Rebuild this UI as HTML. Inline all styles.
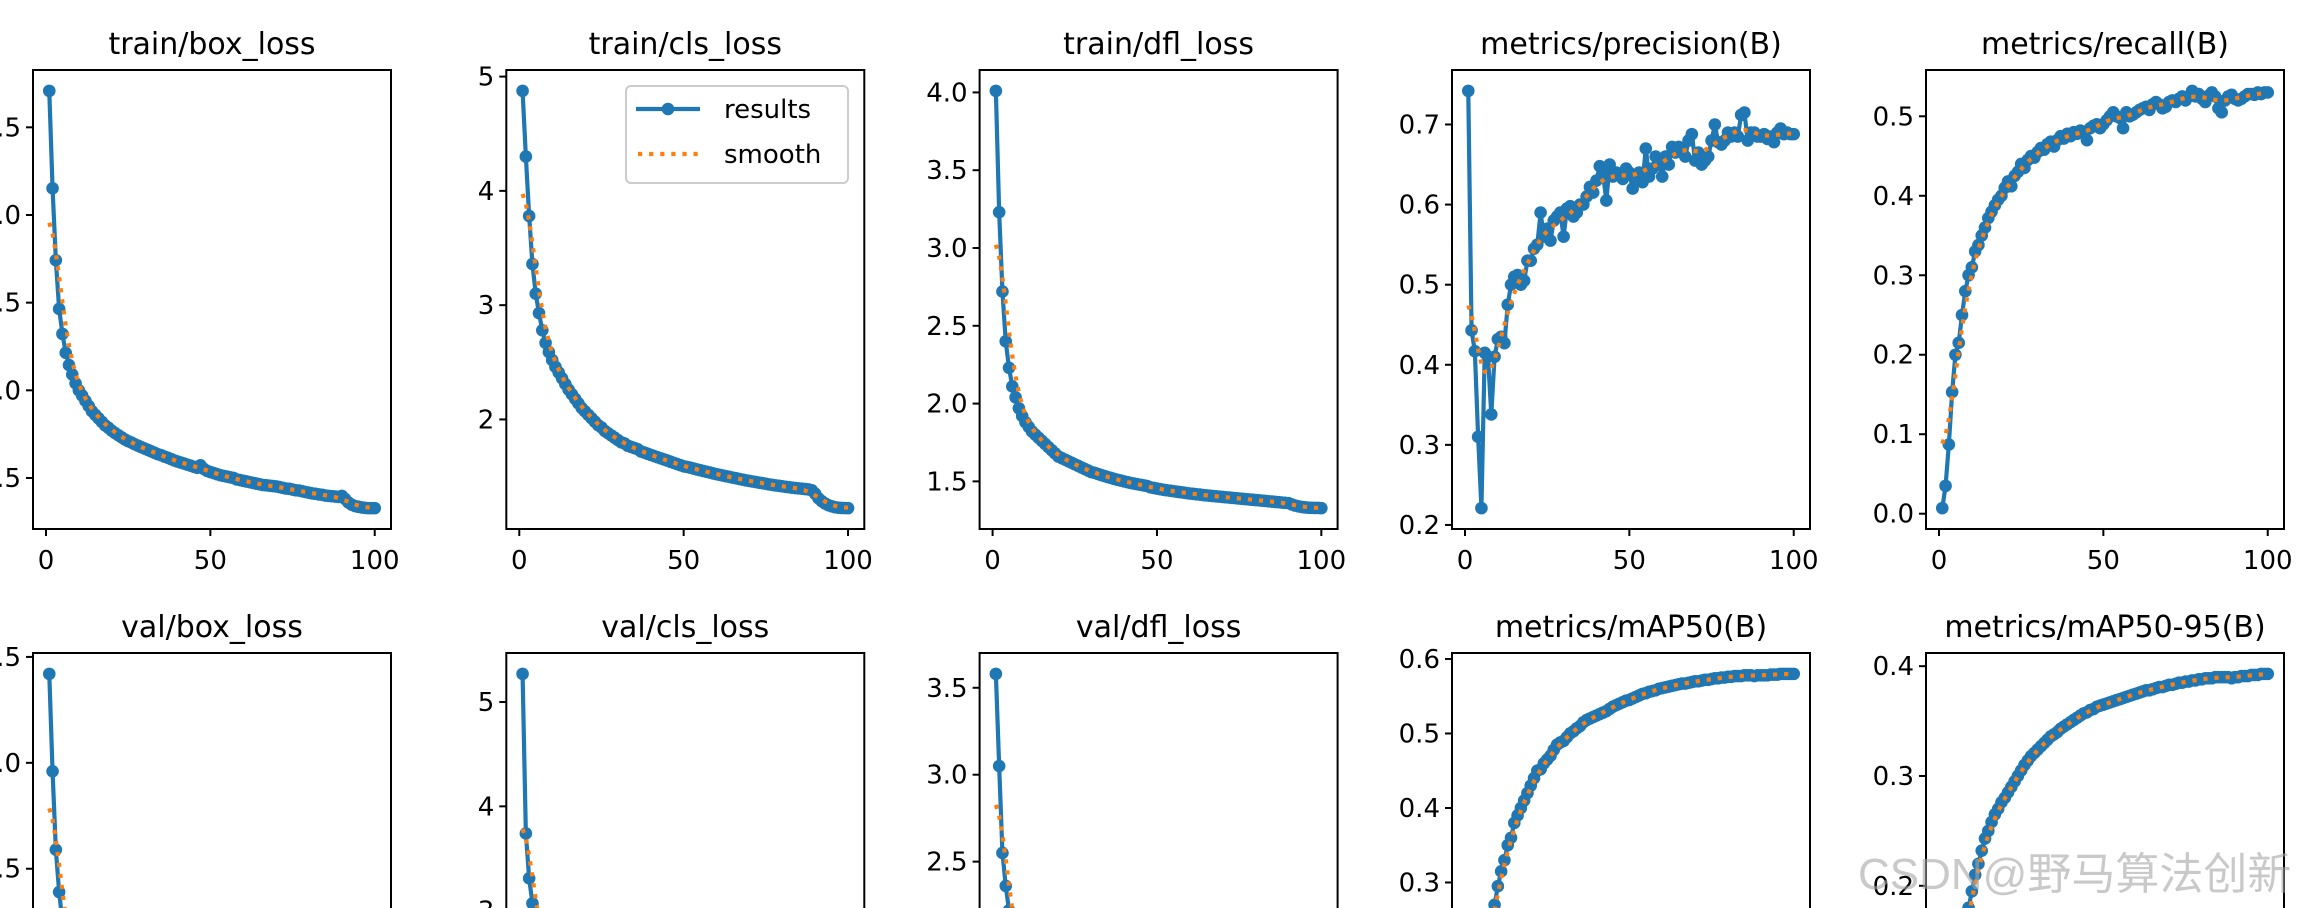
<!DOCTYPE html>
<html><head><meta charset="utf-8">
<style>
html,body{margin:0;padding:0;background:#fff;}
body{width:2307px;height:908px;overflow:hidden;position:relative;}
svg{position:absolute;left:0;top:0;overflow:hidden;}
text{font-family:"DejaVu Sans","Liberation Sans",sans-serif;}
#wm{position:absolute;left:1858px;top:838px;font-family:"Liberation Sans","Noto Sans CJK SC",sans-serif;font-size:44px;color:rgba(165,165,165,0.6);white-space:nowrap;}
</style></head>
<body>
<svg id="chart" width="2307" height="908" viewBox="0 0 2307 908"></svg>
<div id="wm">CSDN@野马算法创新</div>
<script>
const titles = ["train/box_loss","train/cls_loss","train/dfl_loss","metrics/precision(B)","metrics/recall(B)","val/box_loss","val/cls_loss","val/dfl_loss","metrics/mAP50(B)","metrics/mAP50-95(B)"];
const trainBox = [3.708,3.152,2.742,2.464,2.322,2.214,2.144,2.09,2.04,2.0,1.97,1.94,1.91,1.88,1.86,1.84,1.82,1.80,1.786,1.77,1.756,1.744,1.732,1.72,1.71,1.702,1.692,1.684,1.676,1.668,1.66,1.652,1.644,1.636,1.63,1.622,1.616,1.608,1.60,1.594,1.588,1.582,1.576,1.57,1.564,1.558,1.572,1.552,1.54,1.534,1.528,1.522,1.516,1.512,1.508,1.504,1.50,1.492,1.488,1.484,1.48,1.476,1.472,1.468,1.464,1.46,1.458,1.456,1.454,1.452,1.448,1.444,1.44,1.438,1.434,1.43,1.428,1.424,1.42,1.416,1.412,1.41,1.406,1.404,1.40,1.398,1.396,1.394,1.392,1.398,1.38,1.36,1.348,1.34,1.336,1.332,1.33,1.328,1.328,1.328];
const trainCls = [4.875,4.30,3.78,3.36,3.10,2.93,2.78,2.67,2.59,2.52,2.46,2.41,2.36,2.31,2.26,2.22,2.18,2.14,2.10,2.07,2.04,2.01,1.98,1.95,1.93,1.90,1.88,1.86,1.84,1.82,1.80,1.79,1.77,1.76,1.75,1.74,1.72,1.71,1.70,1.69,1.68,1.67,1.66,1.65,1.64,1.63,1.62,1.61,1.60,1.59,1.585,1.578,1.570,1.563,1.556,1.549,1.542,1.535,1.528,1.521,1.515,1.509,1.503,1.497,1.491,1.485,1.479,1.473,1.467,1.462,1.457,1.452,1.447,1.442,1.437,1.432,1.427,1.423,1.419,1.415,1.411,1.407,1.403,1.400,1.397,1.394,1.391,1.388,1.380,1.350,1.310,1.285,1.265,1.250,1.240,1.232,1.228,1.226,1.225,1.224];
const trainDfl = [4.01,3.23,2.72,2.40,2.23,2.11,2.04,1.97,1.92,1.88,1.85,1.82,1.80,1.78,1.76,1.74,1.72,1.70,1.68,1.66,1.65,1.64,1.63,1.62,1.61,1.60,1.59,1.58,1.57,1.56,1.555,1.548,1.541,1.534,1.528,1.522,1.516,1.510,1.505,1.500,1.495,1.490,1.486,1.482,1.478,1.474,1.470,1.462,1.458,1.454,1.450,1.446,1.443,1.440,1.437,1.434,1.431,1.428,1.425,1.422,1.420,1.417,1.415,1.412,1.410,1.408,1.406,1.404,1.402,1.400,1.398,1.396,1.394,1.392,1.390,1.388,1.386,1.384,1.382,1.380,1.378,1.376,1.374,1.372,1.370,1.368,1.366,1.364,1.362,1.360,1.352,1.345,1.340,1.336,1.333,1.331,1.330,1.329,1.329,1.328];
const precision = [0.742,0.443,0.417,0.31,0.221,0.415,0.41,0.338,0.41,0.432,0.435,0.427,0.475,0.50,0.51,0.512,0.50,0.505,0.53,0.53,0.545,0.55,0.59,0.56,0.57,0.555,0.58,0.585,0.59,0.56,0.595,0.598,0.585,0.59,0.60,0.60,0.61,0.622,0.615,0.63,0.648,0.638,0.605,0.65,0.635,0.64,0.638,0.632,0.645,0.64,0.62,0.635,0.64,0.628,0.67,0.635,0.645,0.66,0.65,0.635,0.66,0.65,0.672,0.665,0.672,0.668,0.66,0.68,0.688,0.655,0.665,0.65,0.655,0.66,0.68,0.70,0.678,0.675,0.68,0.69,0.685,0.69,0.685,0.712,0.715,0.68,0.69,0.69,0.685,0.685,0.688,0.682,0.685,0.678,0.69,0.695,0.688,0.69,0.688,0.688];
const recall = [0.007,0.035,0.087,0.153,0.20,0.215,0.25,0.28,0.30,0.31,0.33,0.338,0.35,0.36,0.372,0.38,0.388,0.395,0.40,0.41,0.418,0.412,0.425,0.43,0.44,0.435,0.445,0.45,0.448,0.455,0.46,0.458,0.465,0.468,0.462,0.47,0.475,0.472,0.478,0.475,0.48,0.478,0.482,0.48,0.47,0.485,0.488,0.49,0.485,0.49,0.495,0.50,0.505,0.50,0.498,0.485,0.505,0.50,0.502,0.505,0.508,0.51,0.512,0.508,0.515,0.518,0.515,0.51,0.512,0.518,0.52,0.518,0.522,0.525,0.52,0.525,0.532,0.525,0.528,0.522,0.518,0.526,0.53,0.525,0.51,0.505,0.52,0.525,0.527,0.522,0.52,0.522,0.525,0.528,0.528,0.527,0.53,0.528,0.53,0.53];
const valBox = [2.42,1.96,1.59,1.39,1.25,1.15,1.08,1.02,0.97,0.93,0.90,0.87,0.84,0.82,0.80,0.78,0.76,0.74,0.73,0.72,0.70,0.69,0.68,0.67,0.66,0.65,0.64,0.63,0.62,0.61,0.605,0.60,0.59,0.585,0.58,0.575,0.57,0.565,0.56,0.555,0.55,0.545,0.54,0.535,0.53,0.527,0.524,0.521,0.518,0.515,0.512,0.509,0.506,0.503,0.50,0.498,0.496,0.494,0.492,0.49,0.488,0.486,0.484,0.482,0.48,0.478,0.476,0.474,0.472,0.47,0.469,0.468,0.467,0.466,0.465,0.464,0.463,0.462,0.461,0.46,0.459,0.458,0.457,0.456,0.455,0.455,0.454,0.454,0.453,0.453,0.452,0.452,0.452,0.451,0.451,0.451,0.45,0.45,0.45,0.45];
const valCls = [5.27,3.74,3.31,3.07,2.90,2.75,2.62,2.50,2.40,2.31,2.23,2.16,2.10,2.04,1.99,1.94,1.90,1.86,1.82,1.79,1.76,1.73,1.70,1.68,1.66,1.64,1.62,1.60,1.58,1.57,1.55,1.54,1.52,1.51,1.50,1.49,1.48,1.47,1.46,1.45,1.44,1.43,1.42,1.415,1.41,1.40,1.395,1.39,1.385,1.38,1.375,1.37,1.365,1.36,1.355,1.35,1.345,1.34,1.336,1.332,1.328,1.324,1.32,1.317,1.314,1.311,1.308,1.305,1.302,1.30,1.298,1.296,1.294,1.292,1.29,1.288,1.286,1.285,1.284,1.283,1.282,1.281,1.28,1.279,1.278,1.277,1.276,1.275,1.274,1.273,1.272,1.272,1.271,1.271,1.271,1.27,1.27,1.27,1.27,1.27];
const valDfl = [3.58,3.05,2.55,2.36,2.22,2.10,2.00,1.92,1.85,1.79,1.74,1.70,1.66,1.62,1.59,1.56,1.53,1.51,1.49,1.47,1.45,1.43,1.42,1.40,1.39,1.38,1.37,1.36,1.35,1.34,1.33,1.32,1.315,1.31,1.30,1.295,1.29,1.285,1.28,1.275,1.27,1.266,1.262,1.258,1.254,1.25,1.247,1.244,1.241,1.238,1.235,1.232,1.23,1.228,1.226,1.224,1.222,1.22,1.218,1.216,1.214,1.212,1.21,1.208,1.206,1.205,1.204,1.203,1.202,1.201,1.20,1.199,1.198,1.197,1.196,1.195,1.194,1.193,1.192,1.191,1.19,1.189,1.188,1.187,1.186,1.186,1.185,1.185,1.184,1.184,1.183,1.183,1.182,1.182,1.182,1.181,1.181,1.18,1.18,1.18];
const map50 = [0.02,0.05,0.09,0.13,0.17,0.20,0.22,0.24,0.27,0.295,0.315,0.33,0.35,0.36,0.38,0.39,0.40,0.41,0.42,0.43,0.44,0.45,0.452,0.46,0.465,0.47,0.478,0.485,0.488,0.49,0.495,0.50,0.503,0.507,0.51,0.515,0.518,0.52,0.522,0.524,0.526,0.528,0.53,0.533,0.536,0.538,0.54,0.542,0.544,0.545,0.547,0.549,0.551,0.553,0.554,0.556,0.557,0.558,0.56,0.561,0.562,0.563,0.564,0.565,0.566,0.567,0.567,0.568,0.569,0.57,0.57,0.571,0.572,0.572,0.573,0.574,0.574,0.575,0.575,0.576,0.576,0.577,0.577,0.577,0.578,0.578,0.578,0.577,0.578,0.578,0.578,0.578,0.579,0.579,0.579,0.58,0.58,0.58,0.58,0.58];
const map5095 = [0.013,0.03,0.055,0.08,0.10,0.12,0.14,0.16,0.18,0.195,0.21,0.22,0.232,0.243,0.25,0.258,0.265,0.27,0.276,0.28,0.285,0.29,0.295,0.30,0.305,0.31,0.314,0.318,0.321,0.324,0.327,0.33,0.333,0.336,0.338,0.34,0.343,0.345,0.347,0.349,0.351,0.353,0.355,0.357,0.358,0.36,0.361,0.363,0.364,0.365,0.366,0.367,0.368,0.369,0.37,0.371,0.372,0.373,0.374,0.375,0.376,0.377,0.378,0.378,0.379,0.38,0.381,0.381,0.382,0.383,0.383,0.384,0.385,0.385,0.386,0.386,0.387,0.387,0.388,0.388,0.389,0.389,0.389,0.39,0.39,0.39,0.39,0.39,0.389,0.39,0.39,0.391,0.391,0.391,0.392,0.392,0.392,0.393,0.393,0.393];
const xTicks = [0,50,100];
const xTickLabels = ["0","50","100"];
const yTicks = [[1.5,2.0,2.5,3.0,3.5],[2,3,4,5],[1.5,2.0,2.5,3.0,3.5,4.0],[0.2,0.3,0.4,0.5,0.6,0.7],[0.0,0.1,0.2,0.3,0.4,0.5],[0.5,1.0,1.5,2.0,2.5],[2,3,4,5],[1.5,2.0,2.5,3.0,3.5],[0.1,0.2,0.3,0.4,0.5,0.6],[0.1,0.2,0.3,0.4]];
const yTickLabels = [["1.5","2.0","2.5","3.0","3.5"],["2","3","4","5"],["1.5","2.0","2.5","3.0","3.5","4.0"],["0.2","0.3","0.4","0.5","0.6","0.7"],["0.0","0.1","0.2","0.3","0.4","0.5"],["0.5","1.0","1.5","2.0","2.5"],["2","3","4","5"],["1.5","2.0","2.5","3.0","3.5"],["0.1","0.2","0.3","0.4","0.5","0.6"],["0.1","0.2","0.3","0.4"]];
const series = [trainBox,trainCls,trainDfl,precision,recall,valBox,valCls,valDfl,map50,map5095];

const NS = "http://www.w3.org/2000/svg";
const root = document.getElementById('chart');
function mk(tag, attrs, parent){const e=document.createElementNS(NS,tag);for(const k in attrs)e.setAttribute(k,attrs[k]);(parent||svg).appendChild(e);return e;}
const defs=document.createElementNS(NS,'defs');root.appendChild(defs);
const pageClip=document.createElementNS(NS,'clipPath');pageClip.setAttribute('id','pageclip');defs.appendChild(pageClip);
const pcr=document.createElementNS(NS,'rect');pcr.setAttribute('x',0);pcr.setAttribute('y',0);pcr.setAttribute('width',2307);pcr.setAttribute('height',908);pageClip.appendChild(pcr);
const svg=document.createElementNS(NS,'g');svg.setAttribute('clip-path','url(#pageclip)');root.appendChild(svg);
function smooth(y){const s=3,r=12,n=y.length,w=[];let sum=0;for(let k=-r;k<=r;k++){const v=Math.exp(-0.5*k*k/(s*s));w.push(v);sum+=v;}
  const out=[];for(let i=0;i<n;i++){let a=0;for(let k=-r;k<=r;k++){let j=i+k;if(j<0)j=-j-1;if(j>=n)j=2*n-j-1;a+=w[k+r]*y[j];}out.push(a/sum);}return out;}
const lefts=[33,506.3,979.6,1452,1926], tops=[70,653], W=358, H=459;
for(let p=0;p<10;p++){
  const col=p%5,row=Math.floor(p/5),L=lefts[col],T=tops[row];
  const y=series[p], sm=smooth(y), ep=y.map((_,i)=>i+1);
  const all=y.concat(sm), mn=Math.min(...all), mx=Math.max(...all), r=mx-mn;
  const lo=mn-0.05*r, hi=mx+0.05*r, xlo=1-0.05*99, xhi=100+0.05*99;
  const X=v=>L+(v-xlo)/(xhi-xlo)*W, Y=v=>T+H-(v-lo)/(hi-lo)*H;
  const g=mk('g',{});
  
  
  const cid='c'+p; const cp=mk('clipPath',{id:cid},g); mk('rect',{x:L,y:T,width:W,height:Math.min(H,908-T)},cp);
  const t=mk('text',{x:L+W/2,y:T-16,'text-anchor':'middle','font-size':30,fill:'#000'},g); t.textContent=titles[p];
  
  
  const plot=mk('g',{'clip-path':'url(#'+cid+')'},g);
  const line=mk('polyline',{points:ep.map((e,i)=>X(e)+','+Y(y[i])).join(' '),fill:'none',stroke:'#1f77b4','stroke-width':4.2,'stroke-linejoin':'round'},plot);
  
  
  ep.forEach((e,i)=>{const c=mk('circle',{cx:X(e),cy:Y(y[i]),r:6.3,fill:'#1f77b4'},plot);
    
    });
  const sl=mk('polyline',{points:ep.map((e,i)=>X(e)+','+Y(sm[i])).join(' '),fill:'none',stroke:'#ff7f0e','stroke-width':4.2,'stroke-dasharray':'4.2 6.9'},plot);
  
  
  const visH=Math.min(H,908-T);
  const fr=mk('path',{d:row===0?`M${L},${T}H${L+W}V${T+H}H${L}Z`:`M${L},${T+visH}V${T}H${L+W}V${T+visH}`,fill:'none',stroke:'#000','stroke-width':2},g);
  
  
  if(row===0){
  xTicks.forEach((v,i)=>{mk('line',{x1:X(v),x2:X(v),y1:T+H,y2:T+H+7,stroke:'#000','stroke-width':2},g);
    const tl=mk('text',{x:X(v),y:T+H+40,'text-anchor':'middle','font-size':26},g);tl.textContent=xTickLabels[i];
    
    });
  }
  yTicks[p].forEach((v,i)=>{const yy=Y(v);if(yy<T-1||yy>T+H+1||yy>920)return;
    mk('line',{x1:L-7,x2:L,y1:yy,y2:yy,stroke:'#000','stroke-width':2},g);
    const tl=mk('text',{x:L-12,y:yy+9,'text-anchor':'end','font-size':26},g);tl.textContent=yTickLabels[p][i];
    
    });
}
const lg=mk('g',{});


mk('rect',{x:626,y:86,width:222,height:97,rx:5,fill:'rgba(255,255,255,0.8)',stroke:'#cccccc','stroke-width':2},lg);
mk('line',{x1:636,x2:700,y1:109,y2:109,stroke:'#1f77b4','stroke-width':4.2},lg);
mk('circle',{cx:668,cy:109,r:6.3,fill:'#1f77b4'},lg);
const l1=mk('text',{x:724,y:118,'font-size':26},lg);l1.textContent='results';


mk('line',{x1:638,x2:700,y1:154,y2:154,stroke:'#ff7f0e','stroke-width':4.2,'stroke-dasharray':'4.2 6.9'},lg);
const l2=mk('text',{x:724,y:163,'font-size':26},lg);l2.textContent='smooth';


</script>
</body></html>
